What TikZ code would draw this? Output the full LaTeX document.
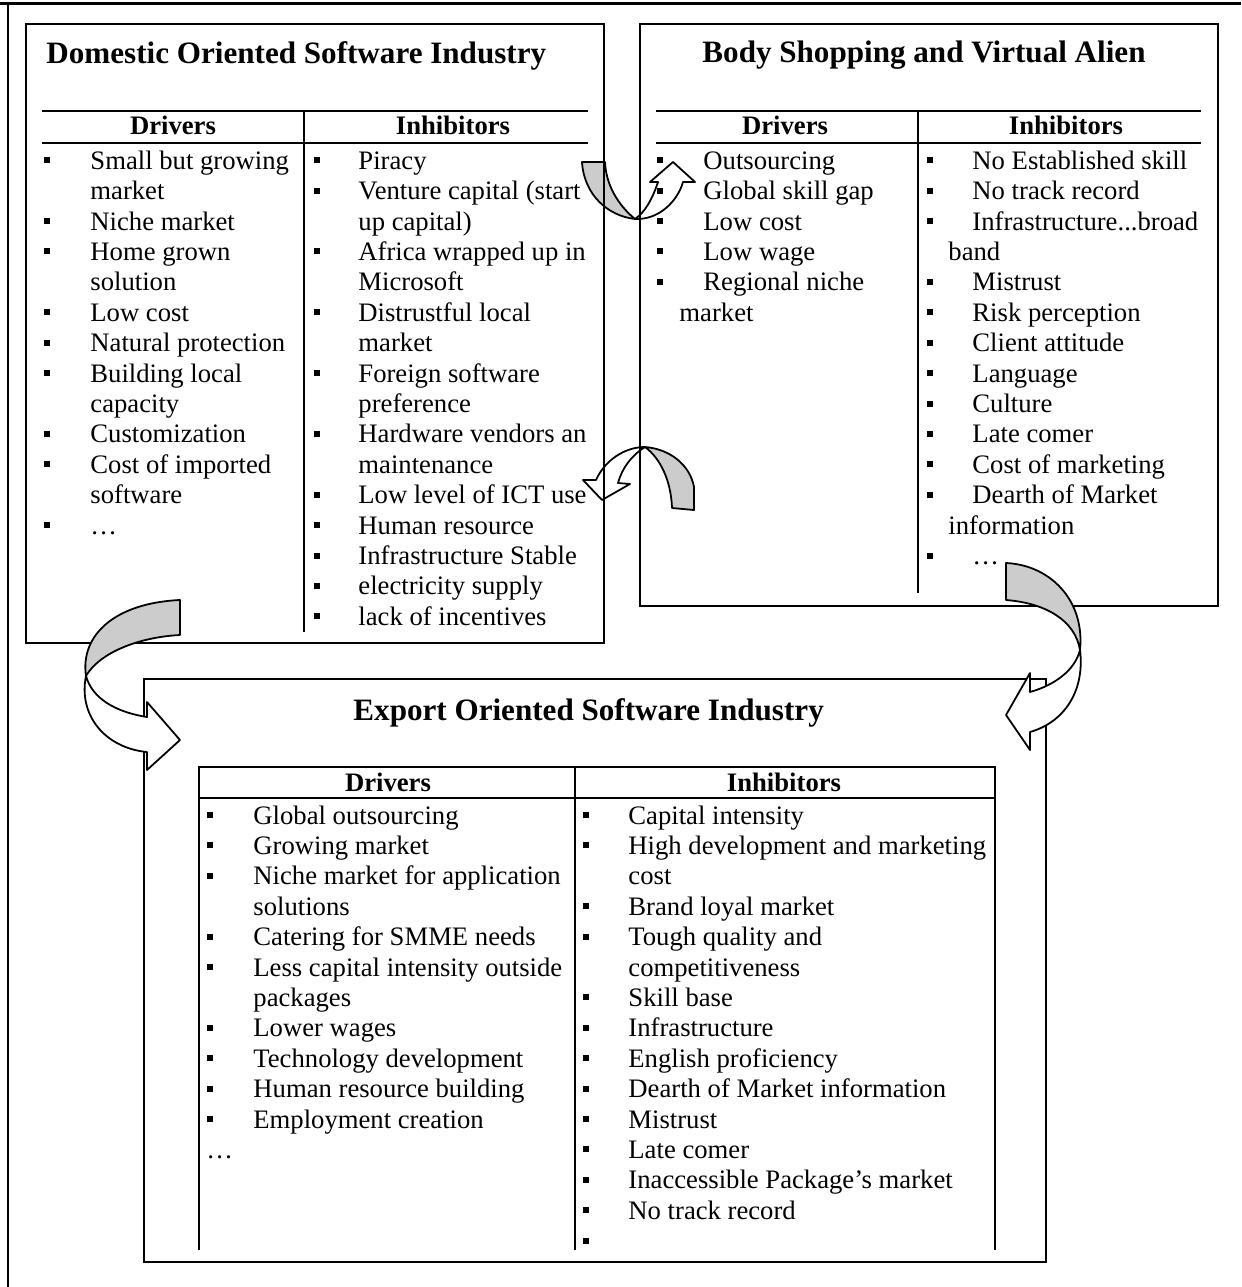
\documentclass[tikz,border=0pt]{standalone}
\usepackage{fontspec}
\setmainfont{Liberation Serif}
\usepackage{tikz}

\tikzset{
  item/.style={anchor=base west, inner sep=0pt, font=\fontsize{12}{14}\selectfont},
  head/.style={anchor=base, inner sep=0pt, font=\fontsize{12}{14}\selectfont\bfseries},
  ttl/.style={anchor=base west, inner sep=0pt, font=\fontsize{14}{16}\selectfont\bfseries},
  frame/.style={line width=0.9pt},
  ribbon/.style={draw=black, line width=0.8pt, line join=round},
}

\begin{document}
\begin{tikzpicture}[x=0.45pt,y=-0.45pt]
 \pgfmathsetmacro{\pitch}{30.4}
 \pgfmathsetmacro{\ya}{169.3}
 \pgfmathsetmacro{\yb}{824}
 \useasboundingbox (0,0) rectangle (1241,1287);

 % curved arrows lying under the boxes
 \filldraw[ribbon, fill=black!20] (582,162) -- (605,162) .. controls (606,185) and (618,205) .. (635,219) .. controls (608,216) and (584,195) .. (582,162) -- cycle;
 \filldraw[ribbon, fill=white] (635,219) .. controls (660,220) and (678,200) .. (683,182) -- (695,182) -- (673,162) -- (650,182) -- (658,182) .. controls (652,200) and (645,212) .. (635,219) -- cycle;
 \filldraw[ribbon, fill=black!20] (672,508) -- (694,510) -- (694,487) .. controls (690,465) and (670,449) .. (645,447) .. controls (660,458) and (671,480) .. (672,508) -- cycle;
 \filldraw[ribbon, fill=white] (645,447) .. controls (625,447) and (605,460) .. (596,480) -- (583,480) -- (602,500) -- (630,484) -- (618,483) .. controls (622,468) and (632,455) .. (645,447) -- cycle;

 % outer frame
 \draw[line width=1.2pt] (0,3.5) -- (1241,3.5);
 \draw[line width=1.2pt] (8,3.5) -- (8,1287);

 % domestic
 \draw[frame] (26,24) rectangle (604,643);
 \node[ttl] (domtitle) at (46,64) {Domestic Oriented Software Industry};
 \draw[frame] (42,111) -- (588,111);
 \draw[frame] (42,143) -- (588,143);
 \draw[frame] (304,111) -- (304,632);
 \node[head] (domdrv) at (173,135) {Drivers};
 \node[head] (dominh) at (453,135) {Inhibitors};
 \foreach \r/\txt in {0/Small but growing,1/market,2/Niche market,3/Home grown,4/solution,5/Low cost,6/Natural protection,7/Building local,8/capacity,9/Customization,10/Cost of imported,11/software,12/…}
   \node[item] (dd\r) at (90,{\ya+\pitch*\r}) {\txt};
 \foreach \r in {0,2,3,5,6,7,9,10,12}
   \fill (44,{\ya+\pitch*\r-12}) rectangle ++(6,6);
 \foreach \r/\txt in {0/Piracy,1/Venture capital (start,2/up capital),3/Africa wrapped up in,4/Microsoft,5/Distrustful local,6/market,7/Foreign software,8/preference,9/Hardware vendors an,10/maintenance,11/Low level of ICT use,12/Human resource,13/Infrastructure Stable,14/electricity supply,15/lack of incentives}
   \node[item] (di\r) at (358,{\ya+\pitch*\r}) {\txt};
 \foreach \r in {0,1,3,5,7,9,11,12,13,14,15}
   \fill (314,{\ya+\pitch*\r-12}) rectangle ++(6,6);

 % body shopping
 \draw[frame] (640,24) rectangle (1218,606);
 \node[ttl] (bodytitle) at (702,63) {Body Shopping and Virtual Alien};
 \draw[frame] (656,111) -- (1201,111);
 \draw[frame] (656,143) -- (1201,143);
 \draw[frame] (918,111) -- (918,593);
 \node[head] (bodydrv) at (785,135) {Drivers};
 \node[head] (bodyinh) at (1066,135) {Inhibitors};
 \foreach \r/\txt in {0/Outsourcing,1/Global skill gap,2/Low cost,3/Low wage,4/Regional niche}
   \node[item] (bd\r) at (703,{\ya+\pitch*\r}) {\txt};
 \node[item] (bd5) at (679,{\ya+\pitch*5}) {market};
 \foreach \r in {0,1,2,3,4}
   \fill (657,{\ya+\pitch*\r-12}) rectangle ++(6,6);
 \foreach \r/\txt in {0/No Established skill,1/No track record,4/Mistrust,5/Risk perception,6/Client attitude,7/Language,8/Culture,9/Late comer,10/Cost of marketing,11/Dearth of Market,13/…}
   \node[item] (bi\r) at (972,{\ya+\pitch*\r}) {\txt};
 \node[item] (bi2) at (972,{\ya+\pitch*2}) {Infrastructure{.}{.}{.}broad};
 \node[item] (bi3) at (948,{\ya+\pitch*3}) {band};
 \node[item] (bi12) at (948,{\ya+\pitch*12}) {information};
 \foreach \r in {0,1,2,4,5,6,7,8,9,10,11,13}
   \fill (927,{\ya+\pitch*\r-12}) rectangle ++(6,6);

 % export
 \draw[frame] (144,679) rectangle (1046,1262);
 \node[ttl] (exptitle) at (353,720.5) {Export Oriented Software Industry};
 \draw[frame] (199,1250) -- (199,767) -- (995,767) -- (995,1250);
 \draw[frame] (199,798) -- (995,798);
 \draw[frame] (575,767) -- (575,1250);
 \node[head] (expdrv) at (388,791.5) {Drivers};
 \node[head] (expinh) at (784,791.5) {Inhibitors};
 \foreach \r/\txt in {0/Global outsourcing,1/Growing market,2/Niche market for application,3/solutions,4/Catering for SMME needs,5/Less capital intensity outside,6/packages,7/Lower wages,8/Technology development,9/Human resource building,10/Employment creation}
   \node[item] (ed\r) at (253,{\yb+\pitch*\r}) {\txt};
 \node[item] (ed11) at (206,{\yb+\pitch*11}) {…};
 \foreach \r in {0,1,2,4,5,7,8,9,10}
   \fill (207,{\yb+\pitch*\r-12}) rectangle ++(6,6);
 \foreach \r/\txt in {0/Capital intensity,1/High development and marketing,2/cost,3/Brand loyal market,4/Tough quality and,5/competitiveness,6/Skill base,7/Infrastructure,8/English proficiency,9/Dearth of Market information,10/Mistrust,11/Late comer,12/Inaccessible Package’s market,13/No track record}
   \node[item] (ei\r) at (628,{\yb+\pitch*\r}) {\txt};
 \foreach \r in {0,1,3,4,6,7,8,9,10,11,12,13,14}
   \fill (583,{\yb+\pitch*\r-12}) rectangle ++(6,6);

 % curved arrows lying over the boxes
 \filldraw[ribbon, fill=black!20] (180,600) -- (180,635) .. controls (140,637) and (100,652) .. (86,676) .. controls (80,635) and (115,603) .. (180,600) -- cycle;
 \filldraw[ribbon, fill=white] (86,676) .. controls (78,715) and (105,748) .. (147,752) -- (147,770) -- (180,740) -- (147,702) -- (147,717) .. controls (115,712) and (92,698) .. (86,676) -- cycle;
 \filldraw[ribbon, fill=black!20] (1006,563) -- (1006,600) .. controls (1045,603) and (1075,620) .. (1080,650) .. controls (1085,600) and (1050,565) .. (1006,563) -- cycle;
 \filldraw[ribbon, fill=white] (1080,650) .. controls (1085,690) and (1065,722) .. (1030,732) -- (1030,750) -- (1006,715) -- (1030,673) -- (1030,692) .. controls (1055,685) and (1075,670) .. (1080,650) -- cycle;
\end{tikzpicture}
\end{document}
